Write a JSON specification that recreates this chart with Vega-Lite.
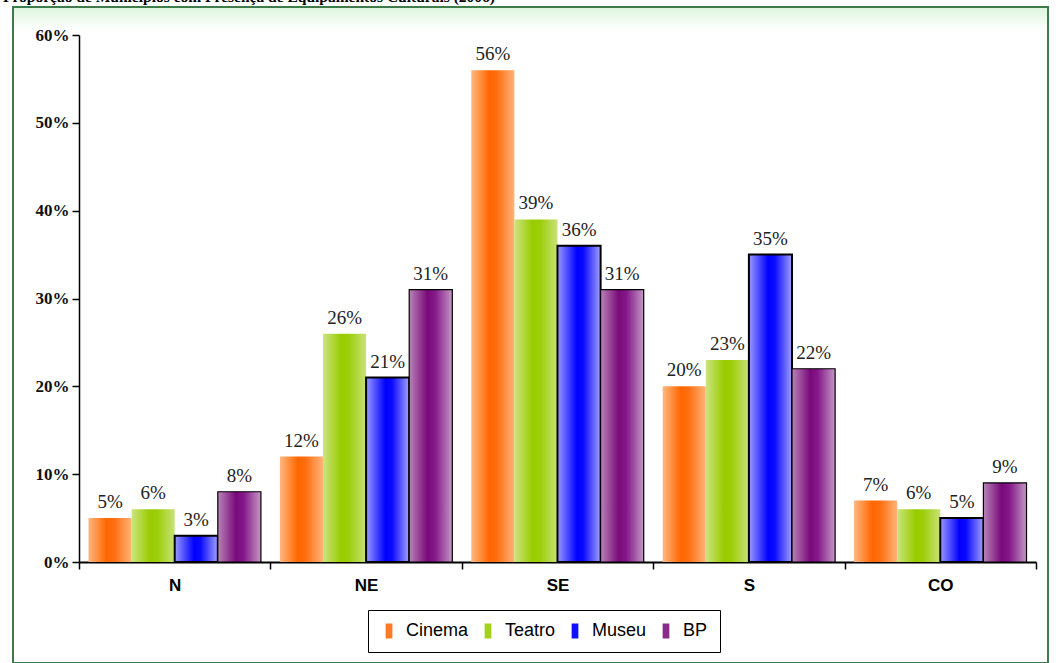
{
  "$schema": "https://vega.github.io/schema/vega-lite/v6.json",
  "autosize": "none",
  "width": 1035,
  "height": 656,
  "padding": {"left": 13, "top": 7, "right": 13, "bottom": 0},
  "background": "#ffffff",
  "title": {
    "text": "Proporção de Municípios com Presença de Equipamentos Culturais (2006)",
    "anchor": "start",
    "frame": "group",
    "orient": "top",
    "baseline": "alphabetic",
    "offset": 0,
    "dy": 10,
    "dx": -10,
    "font": "Liberation Serif",
    "fontSize": 15.5,
    "fontWeight": "bold",
    "color": "#000000"
  },
  "config": {
    "view": {
      "stroke": "#3f7a4a",
      "strokeWidth": 2,
      "fill": {
        "gradient": "linear", "x1": 0, "y1": 0, "x2": 0, "y2": 1,
        "stops": [
          {"offset": 0, "color": "#dcf5dc"},
          {"offset": 0.035, "color": "#ffffff"},
          {"offset": 1, "color": "#ffffff"}
        ]
      }
    },
    "font": "Liberation Sans"
  },
  "data": {
    "values": [
      {"regiao": "N", "equip": "Cinema", "v": 0.05},
      {"regiao": "N", "equip": "Teatro", "v": 0.06},
      {"regiao": "N", "equip": "Museu", "v": 0.03},
      {"regiao": "N", "equip": "BP", "v": 0.08},
      {"regiao": "NE", "equip": "Cinema", "v": 0.12},
      {"regiao": "NE", "equip": "Teatro", "v": 0.26},
      {"regiao": "NE", "equip": "Museu", "v": 0.21},
      {"regiao": "NE", "equip": "BP", "v": 0.31},
      {"regiao": "SE", "equip": "Cinema", "v": 0.56},
      {"regiao": "SE", "equip": "Teatro", "v": 0.39},
      {"regiao": "SE", "equip": "Museu", "v": 0.36},
      {"regiao": "SE", "equip": "BP", "v": 0.31},
      {"regiao": "S", "equip": "Cinema", "v": 0.20},
      {"regiao": "S", "equip": "Teatro", "v": 0.23},
      {"regiao": "S", "equip": "Museu", "v": 0.35},
      {"regiao": "S", "equip": "BP", "v": 0.22},
      {"regiao": "CO", "equip": "Cinema", "v": 0.07},
      {"regiao": "CO", "equip": "Teatro", "v": 0.06},
      {"regiao": "CO", "equip": "Museu", "v": 0.05},
      {"regiao": "CO", "equip": "BP", "v": 0.09}
    ]
  },
  "encoding": {
    "x": {
      "field": "regiao",
      "type": "nominal",
      "sort": ["N", "NE", "SE", "S", "CO"],
      "scale": {"range": [66, 1023], "paddingInner": 0, "paddingOuter": 0},
      "axis": {
        "orient": "bottom",
        "offset": -101,
        "tickBand": "extent",
        "labelAngle": 0,
        "labelFont": "Liberation Sans",
        "labelFontWeight": "bold",
        "labelFontSize": 17,
        "labelColor": "#000000",
        "labelPadding": 8,
        "tickSize": 7,
        "tickColor": "#000000",
        "tickWidth": 1.5,
        "domainColor": "#000000",
        "domainWidth": 2,
        "grid": false,
        "title": null
      }
    },
    "xOffset": {
      "field": "equip",
      "type": "nominal",
      "scale": {"domain": ["Cinema", "Teatro", "Museu", "BP"], "paddingInner": 0, "paddingOuter": 0.22}
    },
    "y": {
      "field": "v",
      "type": "quantitative",
      "scale": {"domain": [0, 0.6], "range": [555, 28], "nice": false},
      "axis": {
        "orient": "left",
        "offset": -66,
        "values": [0, 0.1, 0.2, 0.3, 0.4, 0.5, 0.6],
        "format": ".0%",
        "labelFont": "Liberation Serif",
        "labelFontWeight": "bold",
        "labelFontSize": 17,
        "labelColor": "#111111",
        "labelPadding": 3,
        "tickSize": 7,
        "tickColor": "#000000",
        "tickWidth": 1.5,
        "domainColor": "#000000",
        "domainWidth": 1.5,
        "grid": false,
        "title": null
      }
    }
  },
  "layer": [
    {
      "transform": [{"filter": "datum.equip === 'Cinema'"}],
      "mark": {
        "type": "bar",
        "fill": {
          "gradient": "linear", "x1": 0, "y1": 0, "x2": 1, "y2": 0,
          "stops": [
            {"offset": 0, "color": "#ffb880"},
            {"offset": 0.42, "color": "#ff6600"},
            {"offset": 0.6, "color": "#ff6e10"},
            {"offset": 1, "color": "#ffb47a"}
          ]
        }
      }
    },
    {
      "transform": [{"filter": "datum.equip === 'Teatro'"}],
      "mark": {
        "type": "bar",
        "fill": {
          "gradient": "linear", "x1": 0, "y1": 0, "x2": 1, "y2": 0,
          "stops": [
            {"offset": 0, "color": "#cce480"},
            {"offset": 0.42, "color": "#99cc00"},
            {"offset": 0.6, "color": "#9dce0a"},
            {"offset": 1, "color": "#c8e278"}
          ]
        }
      }
    },
    {
      "transform": [{"filter": "datum.equip === 'Museu'"}],
      "mark": {
        "type": "bar",
        "stroke": "#000000",
        "strokeWidth": 2,
        "fill": {
          "gradient": "linear", "x1": 0, "y1": 0, "x2": 1, "y2": 0,
          "stops": [
            {"offset": 0, "color": "#9a9aff"},
            {"offset": 0.45, "color": "#0000ff"},
            {"offset": 0.6, "color": "#0a0aff"},
            {"offset": 1, "color": "#a0a0ff"}
          ]
        }
      }
    },
    {
      "transform": [{"filter": "datum.equip === 'BP'"}],
      "mark": {
        "type": "bar",
        "stroke": "#000000",
        "strokeWidth": 1.2,
        "fill": {
          "gradient": "linear", "x1": 0, "y1": 0, "x2": 1, "y2": 0,
          "stops": [
            {"offset": 0, "color": "#b884b8"},
            {"offset": 0.42, "color": "#7a0a7a"},
            {"offset": 0.6, "color": "#84188a"},
            {"offset": 1, "color": "#c498c4"}
          ]
        }
      }
    },
    {
      "mark": {
        "type": "text",
        "baseline": "alphabetic",
        "dy": -10,
        "font": "Liberation Serif",
        "fontSize": 19,
        "color": "#222222"
      },
      "encoding": {
        "text": {"field": "v", "type": "quantitative", "format": ".0%"}
      }
    },
    {
      "mark": {"type": "square", "opacity": 0},
      "encoding": {
        "color": {
          "field": "equip",
          "type": "nominal",
          "scale": {
            "domain": ["Cinema", "Teatro", "Museu", "BP"],
            "range": ["#ff7a20", "#a4d21a", "#1010ff", "#8a2a8a"]
          },
          "legend": {
            "title": null,
            "orient": "none",
            "legendX": 355,
            "legendY": 603,
            "direction": "horizontal",
            "columns": 4,
            "symbolType": "M-0.45,-1H0.45V1H-0.45Z",
            "symbolSize": 225,
            "symbolOpacity": 1,
            "symbolStrokeWidth": 0,
            "labelFont": "Liberation Sans",
            "labelFontSize": 18,
            "labelColor": "#000000",
            "labelOffset": 8,
            "labelLimit": 200,
            "columnPadding": 10,
            "padding": 12,
            "strokeColor": "#000000",
            "fillColor": "#ffffff"
          }
        }
      }
    }
  ]
}
